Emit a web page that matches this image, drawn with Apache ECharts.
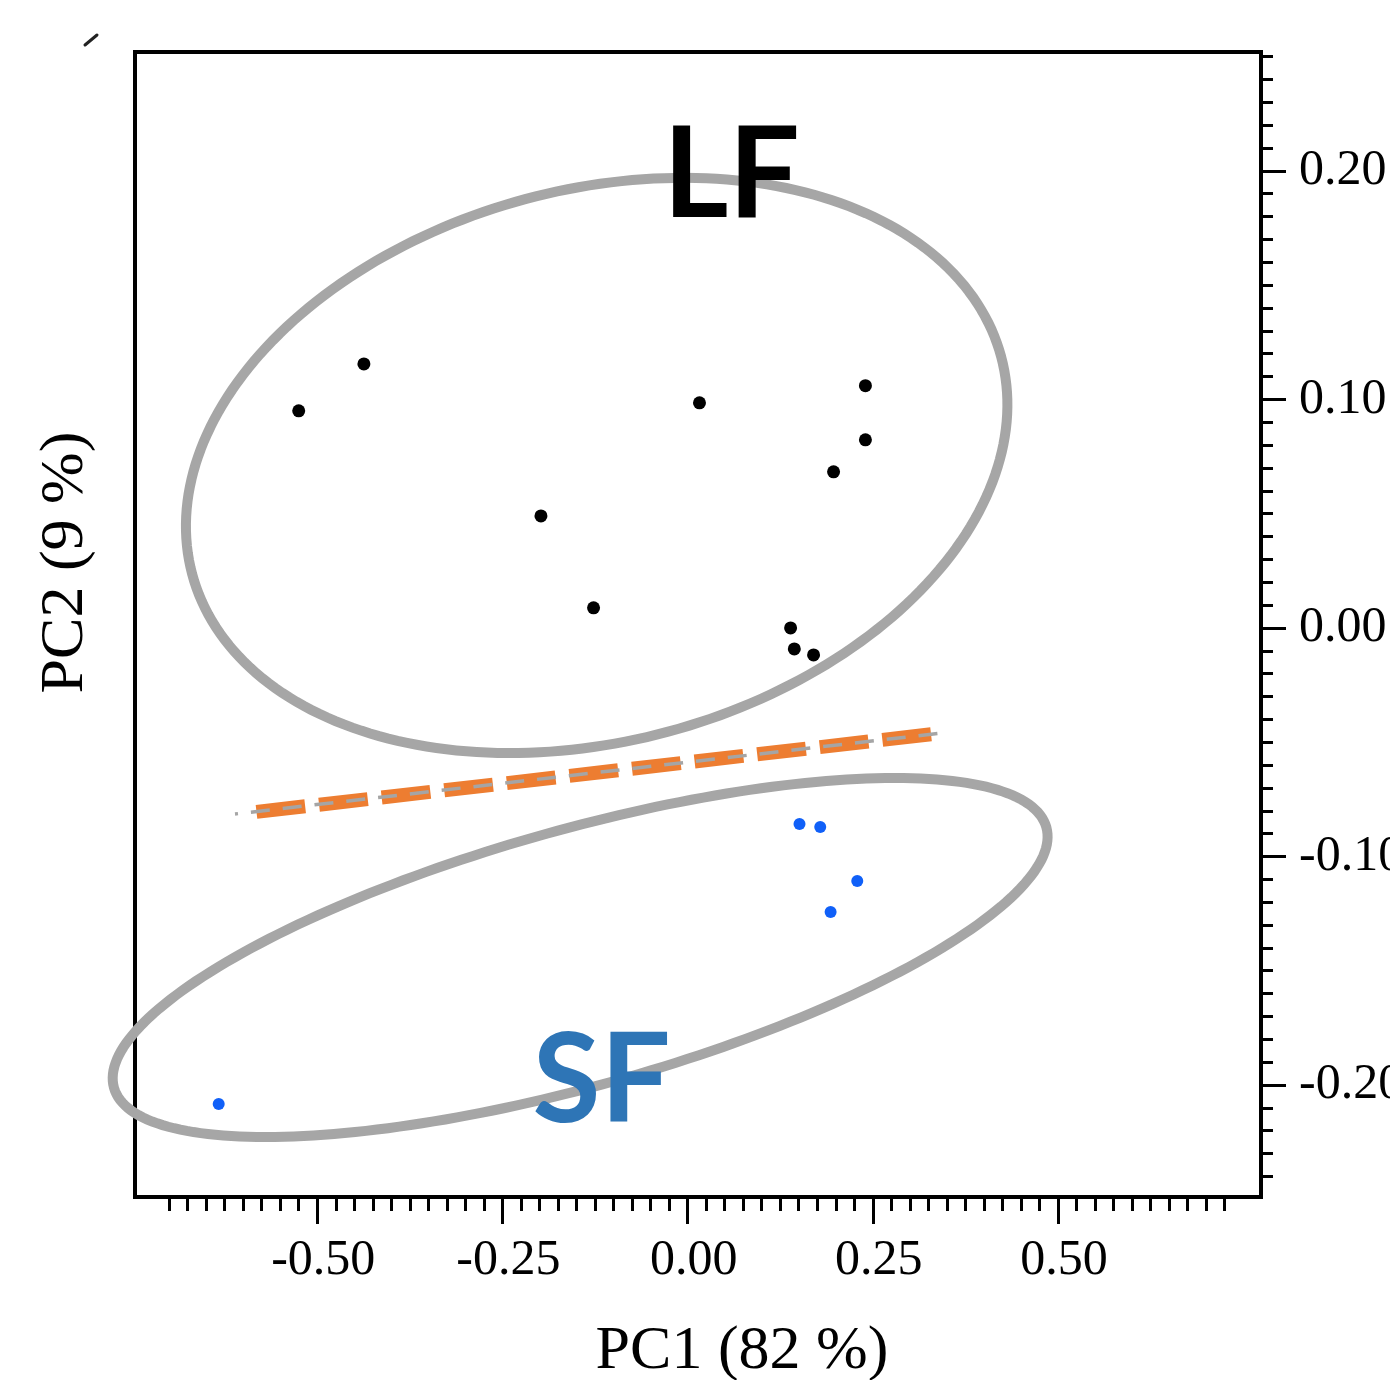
<!DOCTYPE html>
<html>
<head>
<meta charset="utf-8">
<script src="https://cdn.jsdelivr.net/npm/echarts@6/dist/echarts.min.js"></script>
<style>
  html, body { margin: 0; padding: 0; background: #fff; }
  #chart { width: 1390px; height: 1380px; }
</style>
</head>
<body>
<div id="chart"></div>
<script>
// LF samples (PC1, PC2)
const lfPoints = [
  [-0.437, 0.1155], [-0.525, 0.095], [0.016, 0.0985], [0.240, 0.106],
  [0.240, 0.0823], [0.197, 0.0683], [-0.198, 0.049], [-0.127, 0.0088],
  [0.139, 0.000], [0.144, -0.0092], [0.170, -0.0118]
];
// SF samples
const sfPoints = [
  [0.151, -0.0858], [0.179, -0.0871], [0.229, -0.1107], [0.193, -0.1243], [-0.633, -0.2083]
];
// group ellipses: centre and two conjugate semi-axis vectors (data units)
const lfEllipse = { c: [-0.1228, 0.0711], u: [0.546, 0.0476], v: [0.0965, -0.1165] };
const sfEllipse = { c: [-0.1451, -0.1442], u: [0.6293, 0.0570], v: [0.04652, -0.05404] };
// separating line
const sepLineOrange = [[-0.582, -0.0805], [0.343, -0.0460]];
const sepLineGray = [[-0.611, -0.0814], [0.340, -0.0461]];
// group labels
const groupLabels = [
  { name: "LF", value: [0.059, 0.1978], color: "#000000" },
  { name: "SF", value: [-0.116, -0.1988], color: "#2e75b6" }
];
// ticks
const xMajor = [-0.5, -0.25, 0, 0.25, 0.5];
const yMajor = [-0.2, -0.1, 0, 0.1, 0.2];
const xMinor = [];
for (let i = -28; i <= 29; i++) {
  if (i % 10 !== 0) xMinor.push(+(i * 0.025).toFixed(3));
}
const yMinor = [];
for (let i = -24; i <= 25; i++) {
  if (i % 10 !== 0) yMinor.push(+(i * 0.01).toFixed(2));
}

// outline of an ellipse, drawn through the cartesian axes
function renderEllipse(params, api) {
  const e = params.seriesIndex === 0 ? lfEllipse : sfEllipse;
  const pts = [];
  const n = 240;
  for (let k = 0; k <= n; k++) {
    const t = (k / n) * Math.PI * 2;
    pts.push(api.coord([
      e.c[0] + e.u[0] * Math.cos(t) + e.v[0] * Math.sin(t),
      e.c[1] + e.u[1] * Math.cos(t) + e.v[1] * Math.sin(t)
    ]));
  }
  return {
    type: "polygon",
    shape: { points: pts },
    style: { fill: "none", stroke: "#a6a6a6", lineWidth: 10 }
  };
}

const serif = "Liberation Serif";
const chart = echarts.init(document.getElementById("chart"));

const option = {
  backgroundColor: "#fff",
  animation: false,
  grid: {
    left: 135, right: 129, top: 52, bottom: 183,
    outerBoundsMode: "none", containLabel: false,
    show: true, borderColor: "#000", borderWidth: 4, backgroundColor: "transparent"
  },
  xAxis: [
    {
      type: "value", min: -0.746, max: 0.774, position: "bottom",
      name: "PC1 (82 %)", nameLocation: "middle", nameGap: 124,
      nameTextStyle: { fontFamily: serif, fontSize: 62, color: "#000", padding: [0, 0, 0, 88] },
      axisLine: { show: false, onZero: false },
      splitLine: { show: false },
      axisTick: { show: true, customValues: xMajor, length: 27, lineStyle: { color: "#000", width: 3 } },
      axisLabel: {
        customValues: xMajor, margin: 39, fontFamily: serif, fontSize: 50, color: "#000",
        padding: [0, 0, 0, 12],
        formatter: (v) => v.toFixed(2)
      }
    },
    {
      type: "value", min: -0.746, max: 0.774, position: "bottom",
      axisLine: { show: false, onZero: false },
      splitLine: { show: false },
      axisLabel: { show: false },
      axisTick: { show: true, customValues: xMinor, length: 14, lineStyle: { color: "#000", width: 3 } }
    }
  ],
  yAxis: [
    {
      type: "value", min: -0.249, max: 0.252, position: "right",
      axisLine: { show: false, onZero: false },
      splitLine: { show: false },
      axisTick: { show: true, customValues: yMajor, length: 25, lineStyle: { color: "#000", width: 3 } },
      axisLabel: {
        customValues: yMajor, margin: 38, fontFamily: serif, fontSize: 50, color: "#000",
        formatter: (v) => v.toFixed(2)
      }
    },
    {
      type: "value", min: -0.249, max: 0.252, position: "right",
      axisLine: { show: false, onZero: false },
      splitLine: { show: false },
      axisLabel: { show: false },
      axisTick: { show: true, customValues: yMinor, length: 12, lineStyle: { color: "#000", width: 3 } }
    },
    {
      type: "value", min: -0.249, max: 0.252, position: "left",
      name: "PC2 (9 %)", nameLocation: "middle", nameGap: 38, nameRotate: 90,
      nameTextStyle: { fontFamily: serif, fontSize: 62, color: "#000", padding: [0, 0, 0, 124] },
      axisLine: { show: false, onZero: false },
      splitLine: { show: false },
      axisTick: { show: false },
      axisLabel: { show: false }
    }
  ],
  graphic: [
    {
      type: "line", shape: { x1: 85, y1: 45, x2: 97, y2: 35 },
      style: { stroke: "#222", lineWidth: 3, lineCap: "round" }
    }
  ],
  series: [
    {
      type: "custom", renderItem: renderEllipse, data: [lfEllipse.c], clip: false, z: 2
    },
    {
      type: "custom", renderItem: renderEllipse, data: [sfEllipse.c], clip: false, z: 2
    },
    {
      type: "line", data: sepLineOrange, showSymbol: false, symbol: "none",
      lineStyle: { color: "#ed7d31", width: 14, type: [49, 14] }, z: 3
    },
    {
      type: "line", data: sepLineGray, showSymbol: false, symbol: "none",
      lineStyle: { color: "#a5a5a5", width: 3.5, type: [19, 13], dashOffset: 16 }, z: 4
    },
    {
      type: "scatter", data: lfPoints, symbolSize: 13,
      itemStyle: { color: "#000", opacity: 1 }, z: 5
    },
    {
      type: "scatter", data: sfPoints, symbolSize: 12,
      itemStyle: { color: "#1060f8", opacity: 1 }, z: 5
    },
    {
      type: "scatter", symbolSize: 0, z: 6,
      itemStyle: { opacity: 1 },
      data: groupLabels.map((g, i) => ({
        name: g.name, value: g.value,
        label: {
          show: true, position: "inside", formatter: g.name,
          fontFamily: "Lato", fontWeight: "bold",
          fontSize: i === 0 ? 126 : 124, color: g.color
        }
      }))
    }
  ]
};
chart.setOption(option);
</script>
</body>
</html>
